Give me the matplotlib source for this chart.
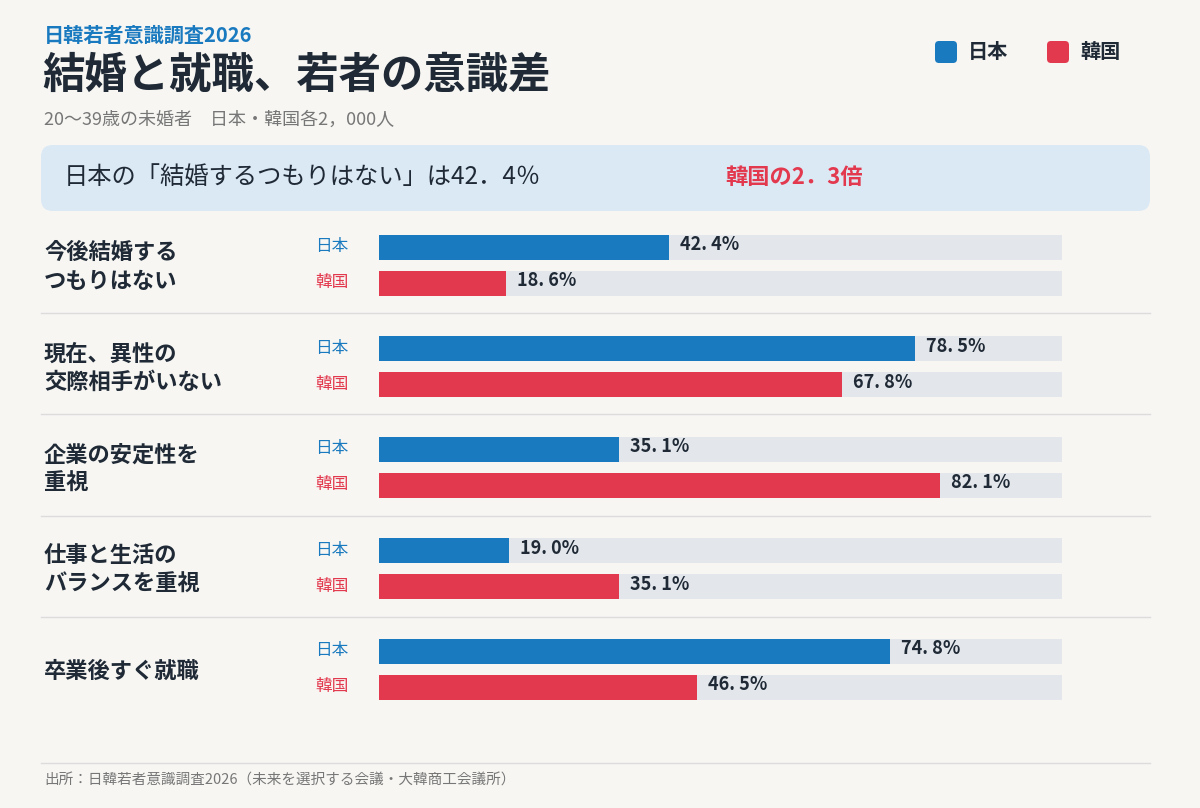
import matplotlib
matplotlib.use("Agg")
import matplotlib.pyplot as plt
from matplotlib.patches import FancyBboxPatch

plt.rcParams['font.family'] = ['Noto Sans CJK JP', 'DejaVu Sans']

categories = ["今後結婚する\nつもりはない", "現在、異性の\n交際相手がいない", "企業の安定性を\n重視",
              "仕事と生活の\nバランスを重視", "卒業後すぐ就職"]
japan = [42.4, 78.5, 35.1, 19.0, 74.8]
korea = [18.6, 67.8, 82.1, 35.1, 46.5]
series_names = ["日本", "韓国"]

BLUE = "#1a7abf"; RED = "#e3394e"; BG = "#f7f6f3"; TRACK = "#e3e6ea"; DARK = "#1f2a36"
W, H = 1200, 808
fig = plt.figure(figsize=(12, 8.08), dpi=100, facecolor=BG)

def T(x, y, s, **kw):
    fig.text(x / W, 1 - y / H, s, **kw)

# header
T(44, 35, "日韓若者意識調査2026", color=BLUE, fontsize=14.5, fontweight='bold', va='center')
T(42, 76, "結婚と就職、若者の意識差", color=DARK, fontsize=30.5, fontweight='bold', va='center')
T(44, 120, "20〜39歳の未婚者　日本・韓国各2，000人", color="#777", fontsize=13, va='center')

# legend
bg = fig.add_axes([0, 0, 1, 1], zorder=0)
bg.set_xlim(0, W); bg.set_ylim(H, 0); bg.axis('off')
for x, c, n in [(935, BLUE, series_names[0]), (1047, RED, series_names[1])]:
    bg.add_patch(FancyBboxPatch((x, 41), 22, 22, boxstyle="round,pad=0,rounding_size=4", fc=c, ec='none'))
    bg.text(x + 33, 52, n, fontsize=14.5, fontweight='bold', color=DARK, va='center')

# highlight box
bg.add_patch(FancyBboxPatch((41, 145), 1109, 66, boxstyle="round,pad=0,rounding_size=12", fc="#dbe9f5", ec='none'))
bg.text(64, 177, "日本の「結婚するつもりはない」は42．4％", fontsize=17.5, color=DARK, va='center')
bg.text(725, 177, f"韓国の{japan[0]/korea[0]:.1f}倍".replace(".", "．"), fontsize=16, color=RED,
        fontweight='bold', va='center')

# separators and footer
for y in [313, 414, 516, 617]:
    bg.plot([41, 1150], [y, y], color="#dcdcdc", lw=1)
bg.plot([41, 1150], [763, 763], color="#dcdcdc", lw=1)
bg.text(44, 781, "出所：日韓若者意識調査2026（未来を選択する会議・大韓商工会議所）", fontsize=10.5,
        color="#777", va='center')

# bars
ax = fig.add_axes([379 / W, 1 - 710 / H, (1062 - 379) / W, (710 - 228) / H], zorder=1)
ax.set_xlim(0, 100); ax.set_ylim(710, 228); ax.axis('off')
for i, cat in enumerate(categories):
    yj = 247 + i * 101
    yk = yj + 36
    for y, v, c, n in [(yj, japan[i], BLUE, series_names[0]), (yk, korea[i], RED, series_names[1])]:
        ax.barh(y, 100, height=25, color=TRACK, zorder=1)
        ax.barh(y, v, height=25, color=c, zorder=2)
        ax.text(v + 1.6, y - 2, f"{v:.1f}%".replace(".", ". "), fontsize=13, fontweight='bold',
                color=DARK, va='center')
        bg.text(315, y, n, fontsize=12, color=c, va='center')
    bg.text(44, (yj + yk) / 2 + 2, cat, fontsize=16, fontweight='bold', color=DARK, va='center',
            linespacing=1.3)

fig.savefig("out.png", dpi=100, facecolor=BG)
